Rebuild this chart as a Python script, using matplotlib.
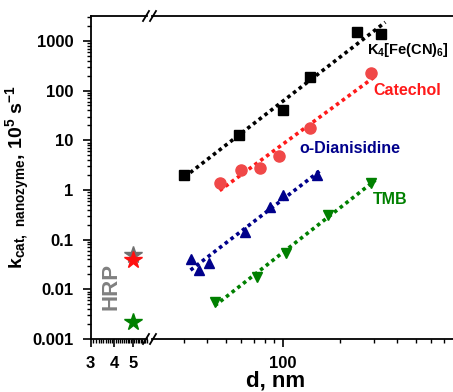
import numpy as np
import matplotlib
matplotlib.use("Agg")
import matplotlib.pyplot as plt
from matplotlib.ticker import FixedLocator, NullFormatter, FixedFormatter
from matplotlib.lines import Line2D

plt.rcParams['font.family'] = ['Liberation Sans', 'DejaVu Sans']
plt.rcParams['font.weight'] = 'bold'
plt.rcParams['mathtext.fontset'] = 'custom'
plt.rcParams['mathtext.rm'] = 'Liberation Sans:bold'
plt.rcParams['mathtext.bf'] = 'Liberation Sans:bold'
plt.rcParams['mathtext.default'] = 'bf'

# data
d_fecn = [30.3, 59, 100, 139, 246, 326]
k_fecn = [2.0, 12.8, 40.7, 187, 1515, 1380]

d_cat = [46.4, 60, 75.5, 95, 139, 289]
k_cat = [1.38, 2.5, 2.8, 4.8, 17.7, 226]

d_dian = [32.6, 36, 40.6, 63, 85, 100, 151]
k_dian = [0.041, 0.0246, 0.034, 0.143, 0.455, 0.79, 2.0]

d_tmb = [43.7, 72.8, 104, 173, 289]
k_tmb = [0.0056, 0.0178, 0.054, 0.314, 1.38]

d_hrp = 5
k_hrp = [0.049, 0.039, 0.0022]
hrp_colors = ['#707070', '#ff1010', '#008000']

W, H = 453, 392
fig = plt.figure(figsize=(W / 100, H / 100), dpi=100)

D = 190.0  # px per decade on x
x0, xb1, xb2, x1 = 90.7, 147, 152, 460
yb, yt = 339, 16

def rect(a, b):
    return [a / W, 1 - yb / H, (b - a) / W, (yb - yt) / H]

axL = fig.add_axes(rect(x0, xb1))
axR = fig.add_axes(rect(xb2, x1), sharey=axL)

for ax in (axL, axR):
    ax.set_xscale('log')
    ax.set_yscale('log')
    ax.tick_params(which='major', direction='out', length=6, width=1.2, labelsize=12, pad=6.5)
    ax.tick_params(which='minor', direction='out', length=3, width=1)
    for s in ax.spines.values():
        s.set_linewidth(1.3)

axL.set_xlim(3, 3 * 10 ** ((xb1 - x0) / D))
xr0 = 100 * 10 ** ((xb2 - 283) / D)
axR.set_xlim(xr0, xr0 * 10 ** ((x1 - xb2) / D))
axL.set_ylim(0.001, 10 ** 3.5)

axL.spines['right'].set_visible(False)
axR.spines['left'].set_visible(False)
axR.spines['right'].set_visible(False)
axR.tick_params(axis='y', which='both', left=False, labelleft=False)

axL.xaxis.set_major_locator(FixedLocator([3, 4, 5]))
axL.xaxis.set_major_formatter(FixedFormatter(['3', '4', '5']))
axL.xaxis.set_minor_locator(FixedLocator(np.arange(3.1, 6.0, 0.1)))
axL.xaxis.set_minor_formatter(NullFormatter())

axR.xaxis.set_major_locator(FixedLocator([100]))
axR.xaxis.set_major_formatter(FixedFormatter(['100']))
axR.xaxis.set_minor_locator(FixedLocator([30, 40, 50, 60, 70, 80, 90, 200, 300, 400, 500, 600, 700, 800]))
axR.xaxis.set_minor_formatter(NullFormatter())

axL.yaxis.set_major_locator(FixedLocator([0.001, 0.01, 0.1, 1, 10, 100, 1000]))
axL.yaxis.set_major_formatter(FixedFormatter(['0.001', '0.01', '0.1', '1', '10', '100', '1000']))
axL.yaxis.set_minor_locator(matplotlib.ticker.LogLocator(subs=np.arange(2, 10)))
axL.yaxis.set_minor_formatter(NullFormatter())

series = [
    (d_fecn, k_fecn, 's', 'black', 'black', 6.5),
    (d_cat, k_cat, 'o', '#ff1a1a', '#f04848', 8),
    (d_dian, k_dian, '^', '#00008b', '#00008b', 7.5),
    (d_tmb, k_tmb, 'v', '#008000', '#008000', 7.5),
]
for d, k, m, lc, mc, ms in series:
    axR.plot(d, k, m, color=mc, ms=ms, ls='none', zorder=3)
    p = np.polyfit(np.log10(d), np.log10(k), 1)
    xs = np.logspace(np.log10(min(d)), np.log10(max(d) * 1.06), 50)
    axR.plot(xs, 10 ** np.polyval(p, np.log10(xs)), ls=(0, (1, 1)), color=lc, lw=2.6, zorder=2)

for k, c in zip(k_hrp, hrp_colors):
    axL.plot(d_hrp, k, '*', color=c, ms=13)

axL.text(3.83, 0.0112, 'HRP', rotation=90, color='#808080', fontsize=16,
         fontweight='bold', ha='center', va='center')

axR.text(278, 656, 'K$_4$[Fe(CN)$_6$]', color='black', fontsize=10.5, ha='left', va='center')
axR.text(298, 98, 'Catechol', color='#ff1a1a', fontsize=11.5, ha='left', va='center')
axR.text(226, 6.8, 'o-Dianisidine', color='#00008b', fontsize=11.5, ha='center', va='center')
axR.text(296, 0.63, 'TMB', color='#008000', fontsize=11.5, ha='left', va='center')

axL.set_ylabel('k$_{cat,\\ nanozyme}$, 10$^5$ s$^{-1}$', fontsize=14, fontweight='bold', labelpad=0)
fig.text(276 / W, 5 / H, 'd, nm', fontsize=16, fontweight='bold', ha='center', va='baseline')

# break marks
for xp in (xb1 - 1, xb2 + 1):
    for yp in (yt, yb):
        fig.add_artist(Line2D([(xp - 3) / W, (xp + 3) / W], [1 - (yp + 5) / H, 1 - (yp - 5) / H],
                              color='black', lw=1.3, transform=fig.transFigure))

fig.savefig('out.png', dpi=100)
